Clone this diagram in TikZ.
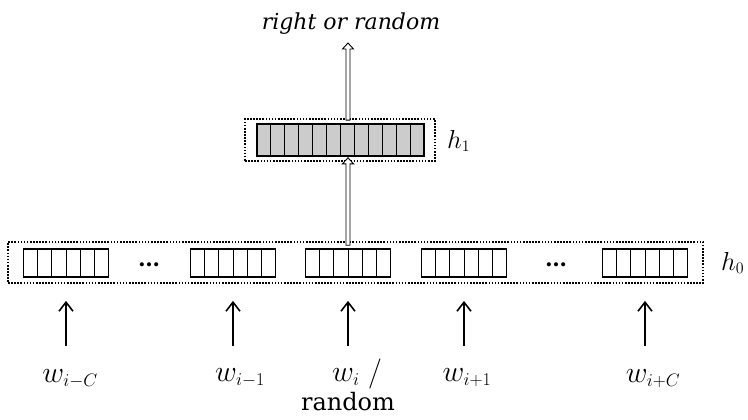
\RequirePackage{fix-cm}
\documentclass[tikz,border=0pt]{standalone}
\usepackage{fontspec}
\setmainfont{DejaVu Serif}
\DeclareMathSizes{30}{30}{18}{14}
\DeclareMathSizes{26}{26}{16}{12}
\usetikzlibrary{arrows.meta,calc}
\begin{document}
\begin{tikzpicture}[x=1pt,y=-1pt,
  dotbox/.style={draw, line width=1.6pt, dash pattern=on 1.6pt off 1.5pt, inner sep=0pt},
  cellrow/.style={draw, line width=1.8pt, minimum width=85pt, minimum height=28pt, inner sep=0pt},
  graybar/.style={draw, line width=1.8pt, fill=black!20, minimum width=167pt, minimum height=32pt, inner sep=0pt},
  divider/.style={line width=0.9pt},
  hollowarrow/.style={draw, line width=0.9pt, fill=white,
    to path={let \p1=(\tikztostart), \p2=(\tikztotarget) in
      (\x1-2pt,\y1) -- (\x1-2pt,\y2-6pt) -- (\x1-5.5pt,\y2-6pt) -- (\x1,\y2)
      -- (\x1+5.5pt,\y2-6pt) -- (\x1+2pt,\y2-6pt) -- (\x1+2pt,\y1) -- cycle}},
  inarrow/.style={line width=1.8pt, -{Straight Barb[length=9pt, width=14pt, line width=1.6pt]}},
  wlabel/.style={font=\fontsize{30}{31}\selectfont, inner sep=0pt, anchor=base},
  rlabel/.style={font=\fontsize{24}{28}\selectfont, inner sep=0pt, anchor=base},
  hlabel/.style={font=\fontsize{26}{28}\selectfont, inner sep=0pt, anchor=base west},
  dotsnode/.style={font=\bfseries\fontsize{22}{26}\selectfont, inner sep=0pt, anchor=base}
]
\fill[white] (0,0) rectangle (748,420);
\useasboundingbox (0,0) rectangle (748,420);

% output text
\node[font=\itshape\fontsize{22}{26}\selectfont, inner sep=0pt, anchor=base] (out) at (351,30) {right or random};
\coordinate (topend) at (347,43);

% h1 layer
\node[dotbox, minimum width=190pt, minimum height=42pt] (h1) at (340,140) {};
\node[graybar] (bar) at (340.5,140) {};
\foreach \i in {1,...,11}
  \draw[divider] ($(bar.south west)!\i/12!(bar.south east)$) -- ($(bar.north west)!\i/12!(bar.north east)$);
\node[hlabel] (h1lab) at (447,148) {$h_1$};

% h0 layer
\node[dotbox, minimum width=695pt, minimum height=41pt] (h0) at (355.5,262.5) {};
\node[cellrow] (g1) at (66,263) {};
\node[cellrow] (g2) at (233,263) {};
\node[cellrow] (g3) at (348,263) {};
\node[cellrow] (g4) at (464,263) {};
\node[cellrow] (g5) at (645,263) {};
\foreach \g in {g1,g2,g3,g4,g5}
  \foreach \i in {1,...,5}
    \draw[divider] ($(\g.south west)!\i/6!(\g.south east)$) -- ($(\g.north west)!\i/6!(\g.north east)$);
\node[dotsnode] (d1) at (149,266) {\ldots};
\node[dotsnode] (d2) at (556,266) {\ldots};
\node[hlabel] (h0lab) at (721,270) {$h_0$};

% hollow arrows
\draw[hollowarrow] ([yshift=-4pt]h0.north -| g3.center) to ([yshift=4pt]h1.south -| g3.center);
\draw[hollowarrow] ([yshift=-2pt]h1.north -| g3.center) to (topend);

% input labels
\node[wlabel] (w1) at (70,382) {$w_{i-C}$};
\node[wlabel] (w2) at (240,381) {$w_{i-1}$};
\node[wlabel] (w3) at (357,381) {$w_i\;/$};
\node[rlabel] (w3b) at (348,410) {random};
\node[wlabel] (w4) at (467,381) {$w_{i+1}$};
\node[wlabel] (w5) at (653,382) {$w_{i+C}$};

% input arrows
\foreach \n in {1,...,5}
  \draw[inarrow] ([yshift=-68pt]g\n.south) -- ([yshift=-23pt]g\n.south);
\end{tikzpicture}
\end{document}
